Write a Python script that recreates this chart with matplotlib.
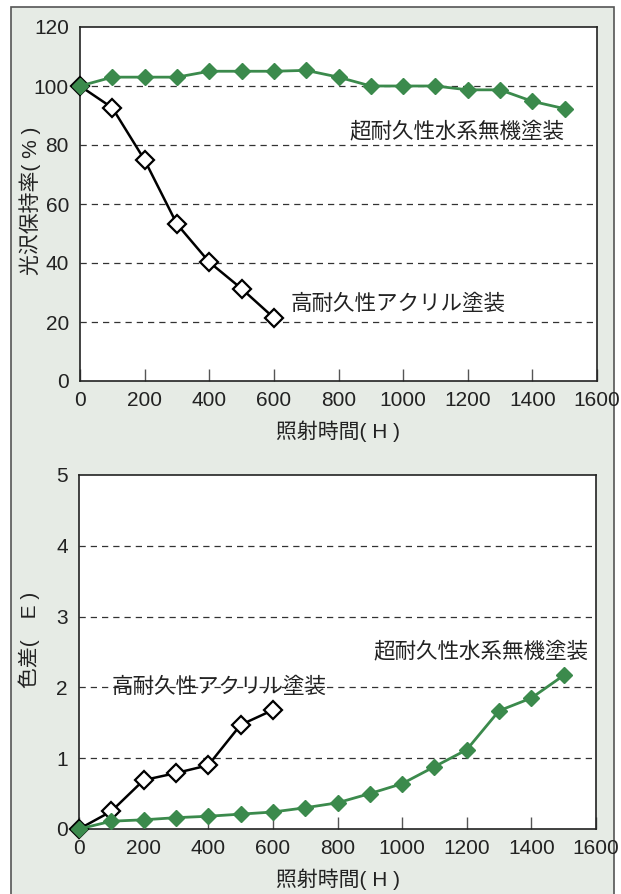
import matplotlib
matplotlib.use("Agg")
import matplotlib.pyplot as plt
from matplotlib.patches import Rectangle

plt.rcParams['font.family'] = ['Liberation Sans', 'Noto Sans CJK JP', 'DejaVu Sans']

# ---- data ----
hours_inorganic = [0, 100, 200, 300, 400, 500, 600, 700, 800, 900, 1000, 1100, 1200, 1300, 1400, 1500]
hours_acrylic = [0, 100, 200, 300, 400, 500, 600]

gloss_inorganic = [100, 103, 103, 103, 105, 105, 105, 105.3, 103, 100, 100, 100, 98.7, 98.7, 94.8, 92.3]
gloss_acrylic = [100, 92.6, 74.9, 53.2, 40.3, 31.3, 21.4]

de_inorganic = [0, 0.11, 0.13, 0.16, 0.18, 0.21, 0.24, 0.30, 0.37, 0.50, 0.64, 0.88, 1.12, 1.67, 1.85, 2.17]
de_acrylic = [0, 0.25, 0.69, 0.79, 0.90, 1.47, 1.68]

x_ticks = [0, 200, 400, 600, 800, 1000, 1200, 1400, 1600]
gloss_ticks = [0, 20, 40, 60, 80, 100, 120]
de_ticks = [0, 1, 2, 3, 4, 5]

label_inorganic = "超耐久性水系無機塗装"
label_acrylic = "高耐久性アクリル塗装"
xlabel = "照射時間( H )"
ylabel_top = "光沢保持率( % )"
ylabel_bottom = "色差(　E )"

GREEN = "#3b8a4c"
BG = "#e6ebe5"
TXT = "#222222"
W, H = 621, 894

fig = plt.figure(figsize=(W / 100, H / 100), dpi=100)
fig.patch.set_facecolor("white")
# outer panel
panel = Rectangle((11 / W, -0.05), (614 - 11) / W, 1.05 - 7 / H,
                  transform=fig.transFigure, facecolor=BG,
                  edgecolor="#555555", linewidth=1.2, zorder=-10)
fig.add_artist(panel)


def make_ax(rect, ydata_g, ydata_a, yticks, ylabel, ylab_y):
    ax = fig.add_axes(rect)
    ax.set_zorder(1)
    ax.set_facecolor("white")
    ax.set_xlim(0, 1600)
    ax.set_ylim(yticks[0], yticks[-1])
    ax.set_xticks(x_ticks)
    ax.set_yticks(yticks)
    ax.tick_params(axis='x', direction='in', length=9, width=1, color="#555555",
                   labelsize=15, pad=7, labelcolor=TXT)
    ax.tick_params(axis='y', length=0, labelsize=15, pad=8, labelcolor=TXT)
    for ytk in yticks[1:-1]:
        ax.axhline(ytk, color="#333333", lw=0.9, ls=(0, (5, 4)), zorder=1)
    for s in ax.spines.values():
        s.set_color(TXT)
        s.set_linewidth(1.2)
    ax.plot(hours_acrylic, ydata_a, color="black", lw=1.8, marker='D', ms=9,
            mfc="white", mec="black", mew=1.6, zorder=3, clip_on=False)
    ax.plot(hours_inorganic, ydata_g, color=GREEN, lw=2, marker='D', ms=8.5,
            mfc=GREEN, mec=GREEN, zorder=4, clip_on=False)
    ax.set_xlabel(xlabel, fontsize=15, color=TXT, labelpad=8)
    ax.set_ylabel(ylabel, fontsize=15, color=TXT, va='center')
    ax.yaxis.set_label_coords(-0.097, ylab_y)
    return ax


ax1 = make_ax([80 / W, 1 - 381 / H, 517 / W, 354 / H], gloss_inorganic, gloss_acrylic,
              gloss_ticks, ylabel_top, 0.508)
ax1.text(1500, 84.4, label_inorganic, ha='right', va='center', fontsize=15.5, color=TXT)
ax1.text(653, 25.8, label_acrylic, ha='left', va='center', fontsize=15.5, color=TXT)

ax2 = make_ax([79 / W, 1 - 829 / H, 517 / W, 354 / H], de_inorganic, de_acrylic,
              de_ticks, ylabel_bottom, 0.534)
ax2.text(1578, 2.5, label_inorganic, ha='right', va='center', fontsize=15.5, color=TXT)
ax2.text(102, 2.0, label_acrylic, ha='left', va='center', fontsize=15.5, color=TXT)

fig.savefig("out.png", dpi=100)
